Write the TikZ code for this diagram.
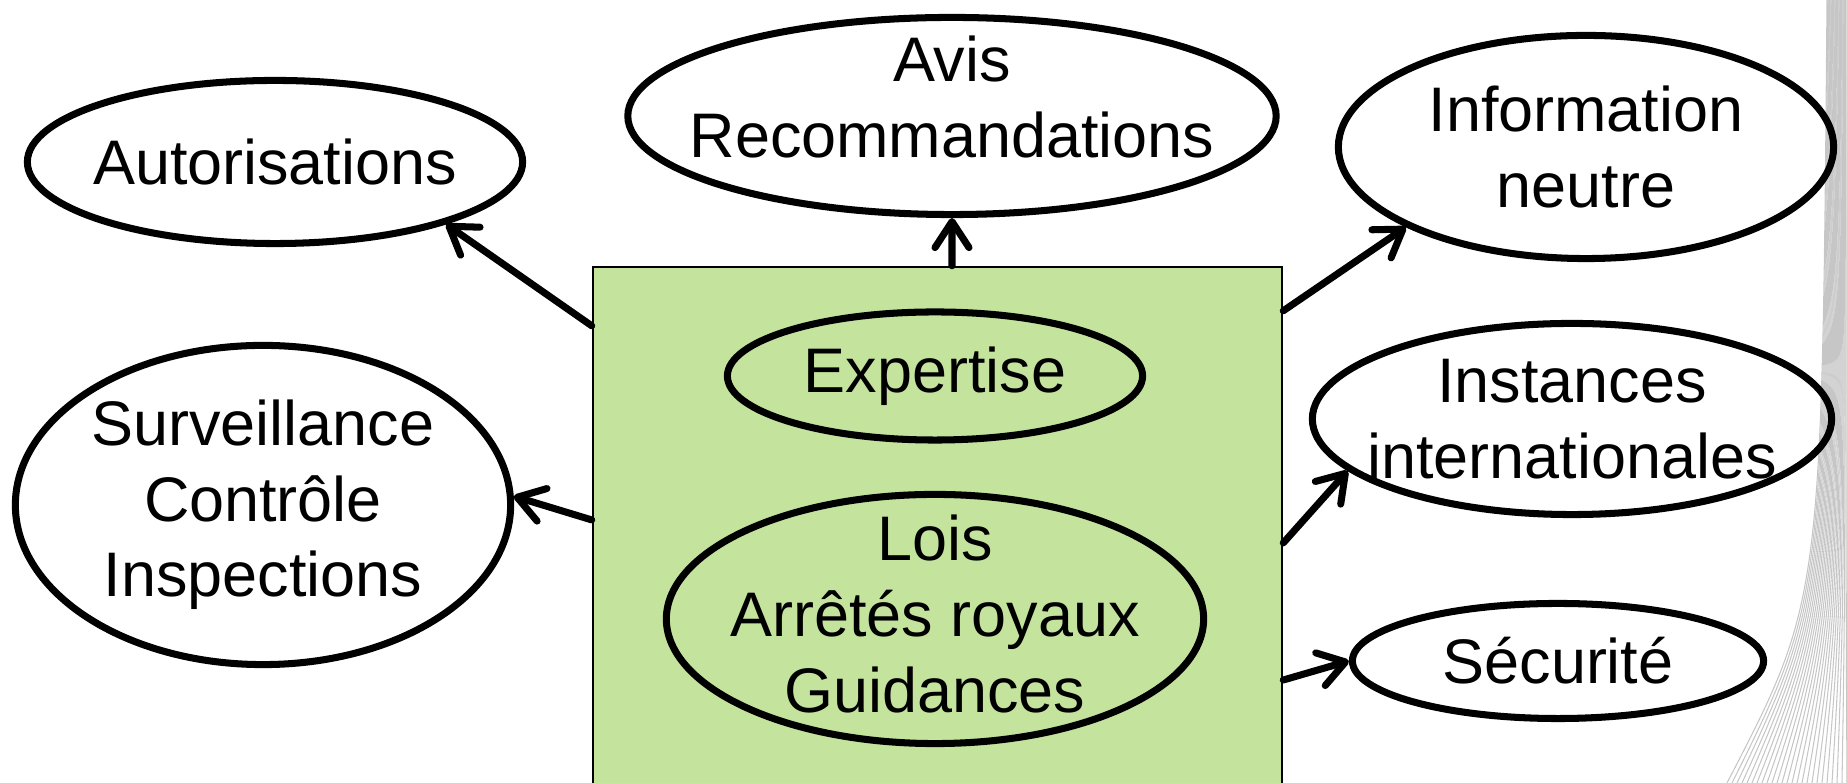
\documentclass[tikz,border=0pt]{standalone}
\usepackage{fontspec}
\setmainfont{Liberation Sans}
\usetikzlibrary{shapes.geometric,arrows.meta}
\definecolor{boxgreen}{RGB}{196,228,158}

\begin{document}
\begin{tikzpicture}[x=0.01cm,y=-0.01cm,
	bubble/.style={ellipse, draw=black, line width=2pt, inner sep=0pt},
	every label/.style={align=center, font=\fontsize{17.9}{21.5}\selectfont},
	arr/.style={line width=2pt, line cap=round, -{Straight Barb[length=2.6mm,width=3.4mm,round]}},
	deco/.style={gray!45, line width=0.3pt}]
	\useasboundingbox (0,0) rectangle (1847,783);
	% background lines at the right edge
	\foreach \i in {0,...,24}
		\draw[deco] (1827+0.8*\i,0) .. controls (1822+1*\i,600) .. (1727+5*\i,783);
	% central box
	\node[draw=black, line width=0.6pt, fill=boxgreen, minimum width=6.89cm, minimum height=5.33cm] (core) at (937.5,533.5) {};
	\node[bubble, fill=boxgreen, minimum width=4.15cm, minimum height=1.28cm, label=center:Expertise] (expert) at (935,376) {};
	\node[bubble, fill=boxgreen, minimum width=5.37cm, minimum height=2.49cm, label={[yshift=0.05cm]center:Lois\\Arrêtés royaux\\Guidances}] (lois) at (935,619) {};
	% outer ellipses
	\node[bubble, minimum width=4.95cm, minimum height=1.63cm, label=center:Autorisations] (auto) at (275,162) {};
	\node[bubble, minimum width=6.48cm, minimum height=1.97cm, label={[yshift=0.19cm]center:Avis\\Recommandations}] (avis) at (952,116) {};
	\node[bubble, minimum width=4.95cm, minimum height=2.23cm, label={center:Information\\neutre}] (info) at (1586,147) {};
	\node[bubble, minimum width=4.95cm, minimum height=3.19cm, label={center:Surveillance\\Contrôle\\Inspections}] (surv) at (263,505) {};
	\node[bubble, minimum width=5.19cm, minimum height=1.91cm, label={center:Instances\\internationales}] (inst) at (1572,419) {};
	\node[bubble, minimum width=4.11cm, minimum height=1.15cm, label=center:Sécurité] (secu) at (1558,661) {};
	% arrows
	\draw[arr] ([yshift=-0.60cm]core.north west) -- (auto.-20);
	\draw[arr] ([xshift=0.145cm]core.north) -- (avis.south);
	\draw[arr] ([yshift=-0.45cm]core.north east) -- (info.-156);
	\draw[arr] ([yshift=-2.54cm]core.north west) -- (surv.2);
	\draw[arr] ([yshift=-2.77cm]core.north east) -- (inst.-167);
	\draw[arr] ([yshift=-4.14cm]core.north east) -- (secu.west);
\end{tikzpicture}
\end{document}
